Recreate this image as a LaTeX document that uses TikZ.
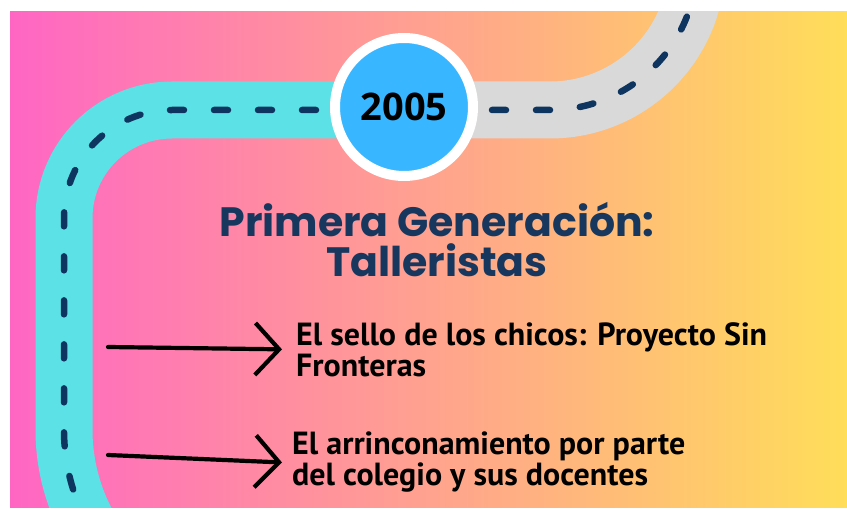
\documentclass[tikz,border=0pt]{standalone}
\usepackage{fontspec}
\setmainfont{Fira Sans}
\newfontfamily\yearfont{Open Sans}
\newfontfamily\titlefont{Poppins}
\newfontfamily\itemfont{PT Sans}
\usetikzlibrary{arrows.meta, positioning}
\definecolor{bgpink}{HTML}{FF66C4}
\definecolor{bgyellow}{HTML}{FFDE59}
\definecolor{roadcyan}{HTML}{5CE1E6}
\definecolor{roadgrey}{HTML}{D9D9D9}
\definecolor{lanenavy}{HTML}{0E355F}
\definecolor{titlenavy}{HTML}{17375E}
\definecolor{yearblue}{HTML}{38B6FF}

\begin{document}
\begin{tikzpicture}[
  x=1pt, y=1pt,
  road/.style={line width=57pt},
  lane/.style={line width=6.5pt, lanenavy, line cap=round, dash pattern=on 14pt off 30pt},
  year/.style={circle, fill=yearblue, draw=white, line width=10pt, minimum size=138pt, inner sep=0pt, font=\yearfont\bfseries\fontsize{38}{40}\selectfont},
  title/.style={font=\titlefont\bfseries\fontsize{41}{40}\selectfont, text=titlenavy, align=center, inner sep=0pt},
  item/.style={font=\itemfont\bfseries\fontsize{32}{31}\selectfont, align=left, inner sep=0pt},
  handarrow/.style={line width=4.2pt, line cap=round, -{Straight Barb[length=24pt, width=52pt]}}
]

\useasboundingbox[fill=white] (0,0) rectangle (847,509);

\begin{scope}
  \clip (10,1) rectangle (847,497);
  \shade[left color=bgpink, right color=bgyellow] (10,1) rectangle (847,497);
  % grey road to the right
  \draw[road, roadgrey] (404,399) -- (550,399) arc[start angle=-90, end angle=-5, radius=147];
  \draw[lane] (404,399) -- (550,399) arc[start angle=-90, end angle=-5, radius=147];
  % cyan road to the left
  \draw[road, roadcyan] (404,399) -- (172,399) arc[start angle=90, end angle=180, radius=108]
    -- (64,79) arc[start angle=180, end angle=210, radius=198];
  \draw[lane] (404,399) -- (172,399) arc[start angle=90, end angle=180, radius=108]
    -- (64,79) arc[start angle=180, end angle=210, radius=198];
\end{scope}

\node[year] (y2005) at (404,402) {2005};

\node[title, anchor=north] (gen) at (437,307) {Primera Generación:\\Talleristas};

\node[item, anchor=north west] (sello) at (296,187) {El sello de los chicos: Proyecto Sin\\Fronteras};
\node[item, anchor=north west] (rincon) at (292,77) {El arrinconamiento por parte\\del colegio y sus docentes};

\coordinate (from1) at (108,162);
\coordinate (from2) at (108,54);

\draw[handarrow] (from1) -- ([xshift=-14pt]sello.west);
\draw[handarrow] (from2) -- ([xshift=-10pt]rincon.west);

\end{tikzpicture}
\end{document}
